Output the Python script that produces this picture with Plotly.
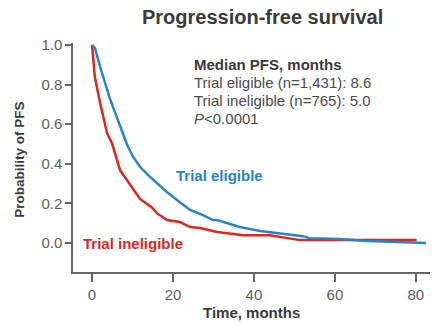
import plotly.graph_objects as go

# Kaplan-Meier style progression-free survival curves (months vs probability)
eligible_time = [0, 0.7, 2.0, 3.2, 4.4, 5.5, 7.0, 8.6, 10.0, 11.9, 14.0, 16.0, 18.5, 21.0,
                 24.2, 27.4, 29.9, 30.9, 33.5, 36.5, 41.5, 45.7, 52.1, 53.8, 61.2, 67.9, 75.0, 82.5]
eligible_prob = [1.0, 0.985, 0.89, 0.81, 0.73, 0.67, 0.59, 0.50, 0.44, 0.384, 0.34, 0.303,
                 0.258, 0.217, 0.167, 0.141, 0.116, 0.116, 0.10, 0.081, 0.061, 0.051, 0.035, 0.025,
                 0.020, 0.010, 0.006, 0.0]

ineligible_time = [0, 0.7, 2.0, 3.2, 3.7, 5.0, 6.0, 6.9, 7.4, 9.5, 11.9, 14.8, 16.0, 18.5, 21.7,
                   24.2, 26.7, 30.9, 37.3, 43.9, 51.4, 80.2]
ineligible_prob = [1.0, 0.838, 0.707, 0.606, 0.556, 0.50, 0.43, 0.369, 0.354, 0.29, 0.222, 0.18,
                   0.151, 0.116, 0.106, 0.081, 0.076, 0.056, 0.040, 0.040, 0.015, 0.015]

x_ticks = [0, 20, 40, 60, 80]
y_ticks = [0.0, 0.2, 0.4, 0.6, 0.8, 1.0]

summary_lines = [
    "<b>Median PFS, months</b>",
    "Trial eligible (n=1,431): 8.6",
    "Trial ineligible (n=765): 5.0",
    "<i>P</i><0.0001",
]

BLUE = "#2a83c9"
RED = "#d8291f"
GREY = "#666666"
TEXT = "#3a3a3a"
FONT = "Liberation Sans, Arial, sans-serif"

fig = go.Figure()
fig.add_trace(go.Scatter(x=ineligible_time, y=ineligible_prob, mode="lines",
                         line=dict(color=RED, width=2.5, shape="linear"),
                         name="Trial ineligible", showlegend=False))
fig.add_trace(go.Scatter(x=eligible_time, y=eligible_prob, mode="lines",
                         line=dict(color=BLUE, width=2.5, shape="linear"),
                         name="Trial eligible", showlegend=False))

fig.update_layout(
    width=432, height=322,
    margin=dict(l=73, r=2, t=43, b=50),
    plot_bgcolor="white", paper_bgcolor="white",
    font=dict(family=FONT, color=TEXT),
    xaxis=dict(range=[-4.7, 83.5], tickvals=x_ticks, ticks="outside", ticklen=8,
               tickwidth=1.5, tickcolor=GREY, showline=True, linecolor=GREY, linewidth=1.5,
               showgrid=False, zeroline=False,
               tickfont=dict(size=15, color="#5e5e5e", family=FONT)),
    yaxis=dict(range=[-0.146, 1.01], tickvals=y_ticks, tickformat=".1f", ticks="outside",
               ticklen=6, tickwidth=1.5, tickcolor=GREY, showline=True, linecolor=GREY,
               linewidth=1.5, showgrid=False, zeroline=False,
               tickfont=dict(size=15, color="#5e5e5e", family=FONT)),
)

annotations = [
    dict(text="<b>Progression-free survival</b>", xref="paper", yref="paper",
         x=(262 - 73) / 357, y=1, yshift=26, showarrow=False,
         font=dict(size=20, color=TEXT, family=FONT), xanchor="center", yanchor="middle"),
    dict(text="<b>Time, months</b>", xref="paper", yref="paper", x=0.5, y=0, yshift=-40,
         showarrow=False, font=dict(size=15, color=TEXT, family=FONT),
         xanchor="center", yanchor="middle"),
    dict(text="<b>Probability of PFS</b>", xref="paper", yref="paper", x=0, xshift=-53,
         y=0.49, textangle=-90, showarrow=False, font=dict(size=13.5, color=TEXT, family=FONT),
         xanchor="center", yanchor="middle"),
    dict(text="<b>Trial eligible</b>", x=20.3, y=0.34, showarrow=False,
         font=dict(size=15, color=BLUE, family=FONT), xanchor="left", yanchor="middle"),
    dict(text="<b>Trial ineligible</b>", x=-2.8, y=0.0, showarrow=False,
         font=dict(size=15, color=RED, family=FONT), xanchor="left", yanchor="middle"),
]
for i, line in enumerate(summary_lines):
    color = TEXT if i == 0 else "#4a4a4a"
    annotations.append(dict(text=line, x=24.6, y=0.9 - i * 18 / 198, showarrow=False,
                            font=dict(size=15, color=color, family=FONT),
                            xanchor="left", yanchor="middle"))
fig.update_layout(annotations=annotations)

fig.write_html("out.html")
